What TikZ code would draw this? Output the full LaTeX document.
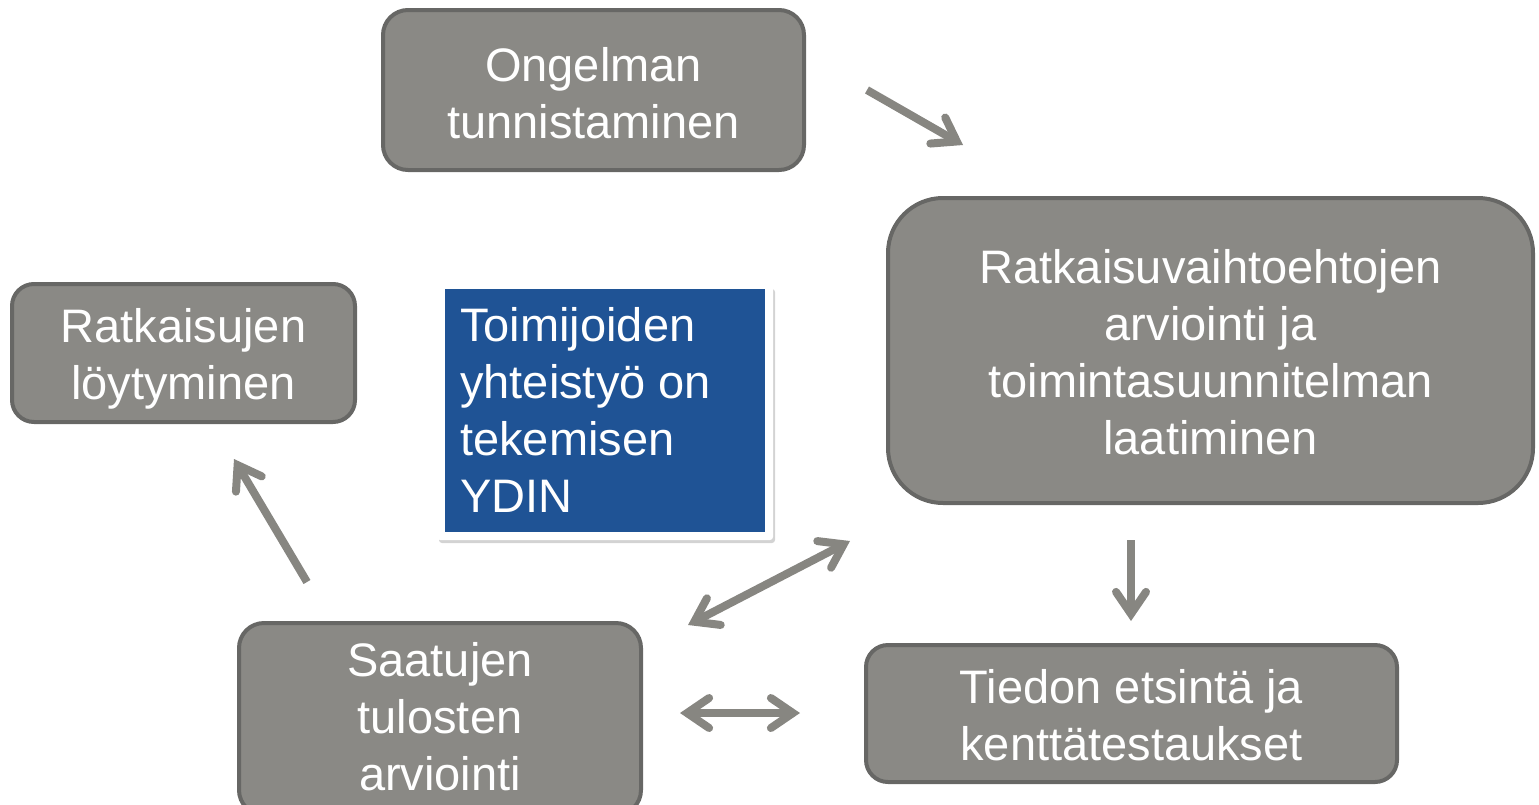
\documentclass[tikz,border=0pt]{standalone}
\usepackage{fontspec}
\setmainfont{Liberation Sans}
\usetikzlibrary{arrows.meta,shadows}
\definecolor{boxfill}{HTML}{8A8985}
\definecolor{boxline}{HTML}{676765}
\definecolor{arrowc}{HTML}{878681}
\definecolor{coreblue}{HTML}{1F5395}
\tikzset{
  greybox/.style={draw=boxline, fill=boxfill, line width=4pt, inner sep=0pt},
  boxtext/.style={text=white, align=center, font=\fontsize{47}{57}\selectfont, inner sep=0pt},
  tip/.tip={Straight Barb[length=22pt,width=30pt,line cap=round,line join=miter]},
  conn/.style={draw=arrowc, line width=8pt, -tip},
  dconn/.style={draw=arrowc, line width=8pt, tip-tip}
}
\begin{document}
\begin{tikzpicture}[x=1pt,y=-1pt]
\useasboundingbox (0,0) rectangle (1539,804);
\node[greybox, rounded corners=25pt, minimum width=421pt, minimum height=160pt] (ong) at (593.5,90) {};
\node[boxtext] (ongt) at (593.5,93) {Ongelman\\tunnistaminen};
\node[greybox, rounded corners=55pt, minimum width=645pt, minimum height=305pt] (rat) at (1210.5,350.5) {};
\node[boxtext] (ratt) at (1210.5,352.5) {Ratkaisuvaihtoehtojen\\arviointi ja\\toimintasuunnitelman\\laatiminen};
\node[greybox, rounded corners=22pt, minimum width=531pt, minimum height=137pt] (tie) at (1131.5,713.5) {};
\node[boxtext] (tiet) at (1131.5,715.5) {Tiedon etsintä ja\\kenttätestaukset};
\node[greybox, rounded corners=25pt, minimum width=402pt, minimum height=192pt] (saa) at (440,719) {};
\node[boxtext] (saat) at (440,717) {Saatujen\\tulosten\\arviointi};
\node[greybox, rounded corners=22pt, minimum width=343pt, minimum height=138pt] (loy) at (183.5,353) {};
\node[boxtext] (loyt) at (183.5,359) {Ratkaisujen\\löytyminen};
\node[fill=white, rounded corners=3pt, minimum width=336pt, minimum height=254pt, inner sep=0pt,
  drop shadow={shadow xshift=2pt, shadow yshift=-3pt, opacity=0.35}] (core) at (605,413) {};
\node[fill=coreblue, minimum width=320pt, minimum height=243pt, inner sep=0pt] (blue) at (605,410.5) {};
\node[anchor=north west, text=white, align=left, font=\fontsize{47}{57}\selectfont, inner sep=0pt] (coretxt) at (460,307) {Toimijoiden\\yhteistyö on\\tekemisen\\YDIN};
\coordinate (a1s) at (867,90); \coordinate (a1e) at (963,145);
\coordinate (a2s) at (1131,540); \coordinate (a2e) at (1131,621);
\coordinate (a3s) at (688,625); \coordinate (a3e) at (850,541);
\coordinate (a4s) at (680,713); \coordinate (a4e) at (800,713);
\coordinate (a5s) at (307,582); \coordinate (a5e) at (234,459);
\draw[conn] (a1s) -- (a1e);
\draw[conn] (a2s) -- (a2e);
\draw[dconn] (a3s) -- (a3e);
\draw[dconn] (a4s) -- (a4e);
\draw[conn] (a5s) -- (a5e);
\end{tikzpicture}
\end{document}
